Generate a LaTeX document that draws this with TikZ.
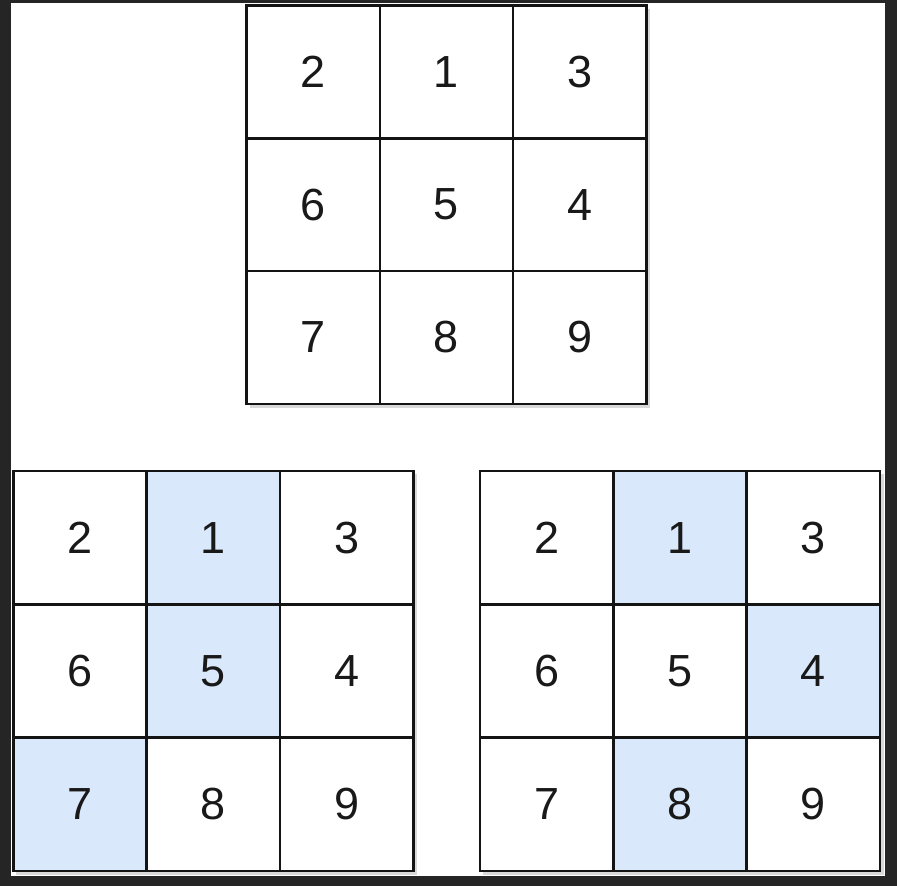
\documentclass[tikz,border=0pt]{standalone}
\usepackage{fontspec}
\setmainfont{Liberation Sans}
\definecolor{frame}{HTML}{252525}
\definecolor{cellblue}{HTML}{DAE8FC}
\definecolor{cellline}{HTML}{141414}
\tikzset{
  cell/.style={draw=cellline, line width=2.6pt, fill=white, minimum width=133.3pt, minimum height=133.3pt, inner sep=0pt, font=\fontsize{45}{45}\selectfont, text=black!90},
  topcell/.style={cell, minimum height=132.8pt},
  hl/.style={fill=cellblue},
  gridshadow/.style={fill=black, opacity=0.15}
}
\begin{document}
\begin{tikzpicture}[x=1pt,y=-1pt]
\useasboundingbox (0,0) rectangle (897,886);
\fill[frame] (0,0) rectangle (897,886);
\fill[white] (11,3) rectangle (884.5,876);
% shadows
\fill[gridshadow] (249.5,8.5) rectangle (650,408);
\fill[gridshadow] (16.3,474) rectangle (416.8,874.5);
\fill[gridshadow] (483,474) rectangle (883.5,874.5);
% top grid
\foreach \lab/\c/\r in {2/0/0,1/1/0,3/2/0,6/0/1,5/1/1,4/2/1,7/0/2,8/1/2,9/2/2}{
  \pgfmathsetmacro{\xx}{246.5+133.3*(\c+0.5)}
  \pgfmathsetmacro{\yy}{5.5+132.8*(\r+0.5)}
  \node[topcell] (t\lab) at (\xx,\yy) {\lab};
}
% bottom left grid
\foreach \lab/\c/\r/\st in {2/0/0/,1/1/0/hl,3/2/0/,6/0/1/,5/1/1/hl,4/2/1/,7/0/2/hl,8/1/2/,9/2/2/}{
  \pgfmathsetmacro{\xx}{13.3+133.3*(\c+0.5)}
  \pgfmathsetmacro{\yy}{471+133.3*(\r+0.5)}
  \node[cell,\st] (l\lab) at (\xx,\yy) {\lab};
}
% bottom right grid
\foreach \lab/\c/\r/\st in {2/0/0/,1/1/0/hl,3/2/0/,6/0/1/,5/1/1/,4/2/1/hl,7/0/2/,8/1/2/hl,9/2/2/}{
  \pgfmathsetmacro{\xx}{480+133.3*(\c+0.5)}
  \pgfmathsetmacro{\yy}{471+133.3*(\r+0.5)}
  \node[cell,\st] (r\lab) at (\xx,\yy) {\lab};
}
\end{tikzpicture}
\end{document}
